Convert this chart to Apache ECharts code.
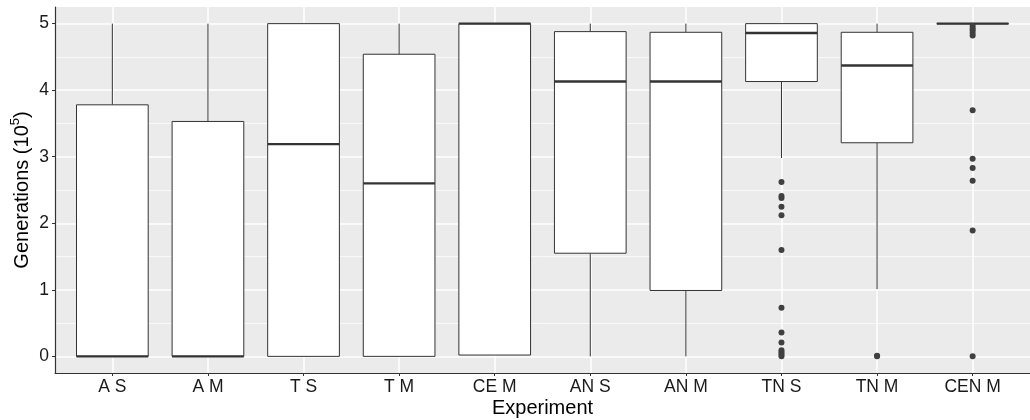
<!DOCTYPE html>
<html>
<head>
<meta charset="utf-8">
<style>
  html, body { margin: 0; padding: 0; background: #fff; }
  #chart { width: 1030px; height: 420px; }
</style>
<script src="https://cdn.jsdelivr.net/npm/echarts@6/dist/echarts.min.js"></script>
</head>
<body>
<div id="chart"></div>
<script>
const categories = ['A S', 'A M', 'T S', 'T M', 'CE M', 'AN S', 'AN M', 'TN S', 'TN M', 'CEN M'];
const whiskerLow = [0, 0, 0, 0, 0.02, 0, 0, 2.98, 1.01, 5];
const q1 = [0, 0, 0, 0, 0.02, 1.55, 0.99, 4.13, 3.21, 5];
const median = [0, 0, 3.19, 2.60, 5, 4.13, 4.13, 4.86, 4.37, 5];
const q3 = [3.78, 3.53, 5, 4.54, 5, 4.88, 4.87, 5, 4.87, 5];
const whiskerHigh = [5, 5, 5, 5, 5, 5, 5, 5, 5, 5];

// outliers, [category index, value]
const outliers = [
    [7, 2.62], [7, 2.41], [7, 2.38], [7, 2.25], [7, 2.12], [7, 1.60], [7, 0.73],
    [7, 0.36], [7, 0.21], [7, 0.09], [7, 0.06], [7, 0.03], [7, 0.0],
    [8, 0.01], [8, 0.0],
    [9, 4.97], [9, 4.93], [9, 4.90], [9, 4.86], [9, 4.82], [9, 3.70],
    [9, 2.97], [9, 2.83], [9, 2.64], [9, 1.89], [9, 0.0]
];
const yTicks = [0, 1, 2, 3, 4, 5];
const yMinor = [0.5, 1.5, 2.5, 3.5, 4.5];
const xTicks = categories.map((c, i) => i);

const boxData = categories.map((c, i) => [i, whiskerLow[i], q1[i], median[i], q3[i], whiskerHigh[i]]);

const LINE = '#333333';
const font = 'Liberation Sans, Arial, sans-serif';

const chart = echarts.init(document.getElementById('chart'));
chart.setOption({
    animation: false,
    grid: {
        left: 55, right: 0, top: 7, bottom: 47,
        containLabel: false,
        outerBoundsMode: 'none',
        show: true, backgroundColor: '#EBEBEB', borderWidth: 0
    },
    xAxis: {
        type: 'value',
        min: -0.6, max: 9.6,
        name: 'Experiment',
        nameLocation: 'middle',
        nameGap: 25,
        nameMoveOverlap: false,
        nameTextStyle: {fontSize: 20, color: '#000', fontFamily: font},
        axisLine: {show: true, onZero: false, lineStyle: {color: LINE, width: 1.2}},
        axisTick: {show: true, length: 3, customValues: xTicks, lineStyle: {color: LINE}},
        axisLabel: {
            customValues: xTicks, margin: 5, fontSize: 17.5, color: '#1a1a1a', fontFamily: font,
            formatter: v => categories[Math.round(v)]
        },
        splitLine: {show: true, lineStyle: {color: '#FFFFFF', width: 1.5}}
    },
    yAxis: [{
        type: 'value',
        min: -0.25, max: 5.25,
        name: 'Generations (10{sup|5})',
        nameLocation: 'middle',
        nameGap: 20,
        nameRotate: 90,
        nameMoveOverlap: false,
        nameTextStyle: {
            fontSize: 20, color: '#000', fontFamily: font, lineHeight: 26,
            rich: {sup: {fontSize: 13, fontFamily: font, color: '#000', verticalAlign: 'top', lineHeight: 26}}
        },
        axisLine: {show: true, onZero: false, lineStyle: {color: LINE, width: 1.2}},
        axisTick: {show: true, length: 3, customValues: yTicks, lineStyle: {color: LINE}},
        axisLabel: {customValues: yTicks, margin: 6, fontSize: 17.5, color: '#1a1a1a', fontFamily: font},
        splitLine: {show: true, lineStyle: {color: '#FFFFFF', width: 1.5}}
    }, {
        type: 'value',
        min: -0.25, max: 5.25,
        position: 'left',
        axisLine: {show: false},
        axisTick: {show: false, customValues: yMinor},
        axisLabel: {show: false, customValues: yMinor},
        splitLine: {show: true, lineStyle: {color: '#FFFFFF', width: 0.7}}
    }],
    series: [{
        type: 'custom',
        data: boxData,
        z: 3,
        renderItem: function (params, api) {
            const x = api.value(0);
            const half = api.size([0.75, 0])[0] / 2;
            const pLow = api.coord([x, api.value(1)]);
            const pQ1 = api.coord([x, api.value(2)]);
            const pMed = api.coord([x, api.value(3)]);
            const pQ3 = api.coord([x, api.value(4)]);
            const pHigh = api.coord([x, api.value(5)]);
            const cx = pQ1[0];
            const lineStyle = {stroke: LINE, lineWidth: 1, fill: null};
            return {
                type: 'group',
                children: [
                    {type: 'line', shape: {x1: cx, y1: pQ3[1], x2: cx, y2: pHigh[1]}, style: lineStyle},
                    {type: 'line', shape: {x1: cx, y1: pQ1[1], x2: cx, y2: pLow[1]}, style: lineStyle},
                    {
                        type: 'rect',
                        shape: {x: cx - half, y: pQ3[1], width: half * 2, height: pQ1[1] - pQ3[1]},
                        style: {fill: '#FFFFFF', stroke: LINE, lineWidth: 1}
                    },
                    {
                        type: 'line',
                        shape: {x1: cx - half, y1: pMed[1], x2: cx + half, y2: pMed[1]},
                        style: {stroke: LINE, lineWidth: 2.4}
                    }
                ]
            };
        }
    }, {
        type: 'scatter',
        data: outliers,
        symbolSize: 6,
        z: 4,
        itemStyle: {color: '#404040', opacity: 1}
    }]
});
</script>
</body>
</html>
